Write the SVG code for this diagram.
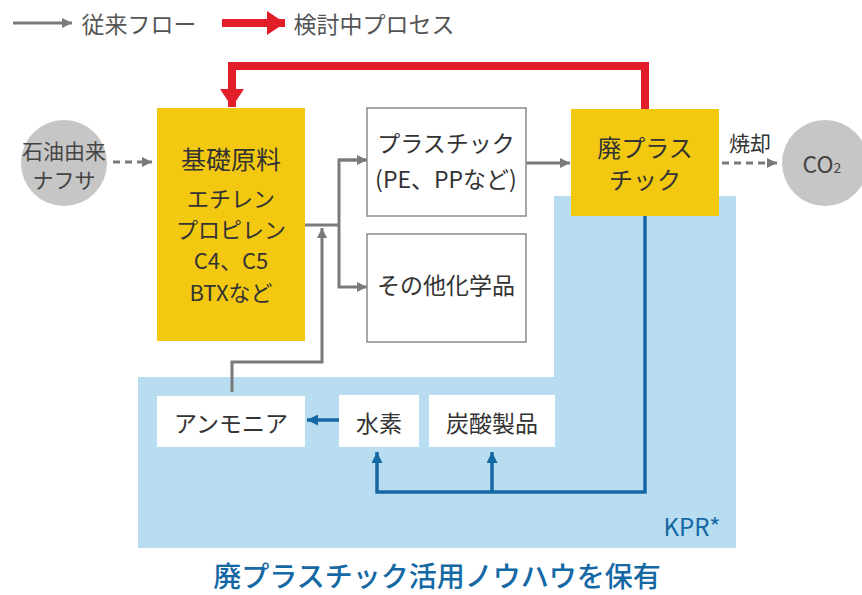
<svg xmlns="http://www.w3.org/2000/svg" width="862" height="595" viewBox="0 0 862 595">
<style>
text{font-family:"Noto Sans CJK JP","Noto Sans",sans-serif;fill:#333;dominant-baseline:central;text-anchor:middle}
.t{font-size:23px}
.yel{fill:#F2C811}
.box{fill:#fff;stroke:#8a8a8a;stroke-width:1.5}
.wbox{fill:#fff}
.g{fill:none;stroke:#7a7a7a;stroke-width:3}
.gd{fill:none;stroke:#7a7a7a;stroke-width:3;stroke-dasharray:7 5}
.b{fill:none;stroke:#1468A4;stroke-width:3.5}
.r{fill:none;stroke:#E31E2B;stroke-width:8}
.circ{fill:#C6C6C6}
</style>
<defs>
<marker id="ag" markerUnits="userSpaceOnUse" markerWidth="10" markerHeight="10" refX="10" refY="5" orient="auto"><path d="M0,0 L10,5 L0,10 z" fill="#7a7a7a"/></marker>
<marker id="ab" markerUnits="userSpaceOnUse" markerWidth="11" markerHeight="11" refX="11" refY="5.5" orient="auto"><path d="M0,0 L11,5.5 L0,11 z" fill="#1468A4"/></marker>
<marker id="ar" markerUnits="userSpaceOnUse" markerWidth="18" markerHeight="24" refX="18" refY="12" orient="auto"><path d="M0,0 L18,12 L0,24 z" fill="#E31E2B"/></marker>
</defs>

<!-- background region -->
<path d="M554,196 H736 V548 H138 V377 H554 Z" fill="#B8DCF0"/>

<!-- legend -->
<g id="legend">
<line x1="13" y1="23" x2="72" y2="23" class="g" marker-end="url(#ag)"/>
<text x="139" y="23" class="t" style="fill:#555">従来フロー</text>
<line x1="222" y1="23" x2="285" y2="23" class="r" marker-end="url(#ar)"/>
<text x="374" y="23" class="t" style="fill:#555">検討中プロセス</text>
</g>

<g id="connectors">
<path d="M645,109 V66 H232 V107" class="r" marker-end="url(#ar)"/>
<line x1="113" y1="162" x2="152" y2="162" class="gd" marker-end="url(#ag)"/>
<path d="M305,225 H339" class="g"/>
<path d="M367,160 H339 V287 H367" class="g" marker-end="url(#ag)"/>
<line x1="339" y1="160" x2="367" y2="160" class="g" marker-end="url(#ag)"/>
<path d="M232,392 V362 H322 V228" class="g" marker-end="url(#ag)"/>
<line x1="526" y1="163" x2="570" y2="163" class="g" marker-end="url(#ag)"/>
<line x1="722" y1="163" x2="777" y2="163" class="gd" marker-end="url(#ag)"/>
<line x1="339" y1="420" x2="307" y2="420" class="b" marker-end="url(#ab)"/>
<path d="M645,216 V492 H377 V452" class="b" marker-end="url(#ab)"/>
<path d="M492,492 V452" class="b" marker-end="url(#ab)"/>
</g>

<g id="naphtha">
<circle cx="64" cy="163" r="43" class="circ"/>
<text x="64" y="150" style="font-size:21px;fill:#444">石油由来</text>
<text x="64" y="179" style="font-size:21px;fill:#444">ナフサ</text>
</g>

<g id="basic">
<rect x="157" y="108" width="148" height="233" class="yel"/>
<text x="231" y="158" class="t" style="font-size:25px">基礎原料</text>
<text x="231" y="197" class="t" style="font-size:22px">エチレン</text>
<text x="231" y="228" class="t" style="font-size:22px">プロピレン</text>
<text x="231" y="259" class="t" style="font-size:22px">C4、C5</text>
<text x="231" y="291" class="t" style="font-size:22px">BTXなど</text>
</g>

<g id="plastic">
<rect x="367" y="108" width="159" height="108" class="box"/>
<text x="446" y="142" class="t">プラスチック</text>
<text x="446" y="178" class="t">(PE、PPなど)</text>
</g>

<g id="other">
<rect x="367" y="234" width="159" height="108" class="box"/>
<text x="446" y="284" class="t">その他化学品</text>
</g>

<g id="waste">
<rect x="571" y="109" width="148" height="107" class="yel"/>
<text x="645" y="146" class="t" style="font-size:24px">廃プラス</text>
<text x="645" y="178" class="t" style="font-size:24px">チック</text>
</g>

<g id="burn">
<text x="750" y="142" class="t" style="font-size:21px">焼却</text>
</g>

<g id="co2">
<circle cx="825" cy="163" r="43" class="circ"/>
<text x="822" y="163" class="t" style="fill:#444">CO<tspan font-size="14" dy="4">2</tspan></text>
</g>

<g id="ammonia">
<rect x="157" y="396" width="148" height="51" class="wbox"/>
<text x="231" y="422" class="t">アンモニア</text>
</g>

<g id="hydrogen">
<rect x="339" y="395" width="80" height="52" class="wbox"/>
<text x="379" y="422" class="t">水素</text>
</g>

<g id="carbonate">
<rect x="429" y="395" width="126" height="52" class="wbox"/>
<text x="492" y="422" class="t">炭酸製品</text>
</g>

<text x="692" y="525" style="font-size:24px;fill:#1468A4">KPR*</text>
<text x="437" y="575" style="font-size:28px;fill:#1468A4;font-weight:500">廃プラスチック活用ノウハウを保有</text>
</svg>
